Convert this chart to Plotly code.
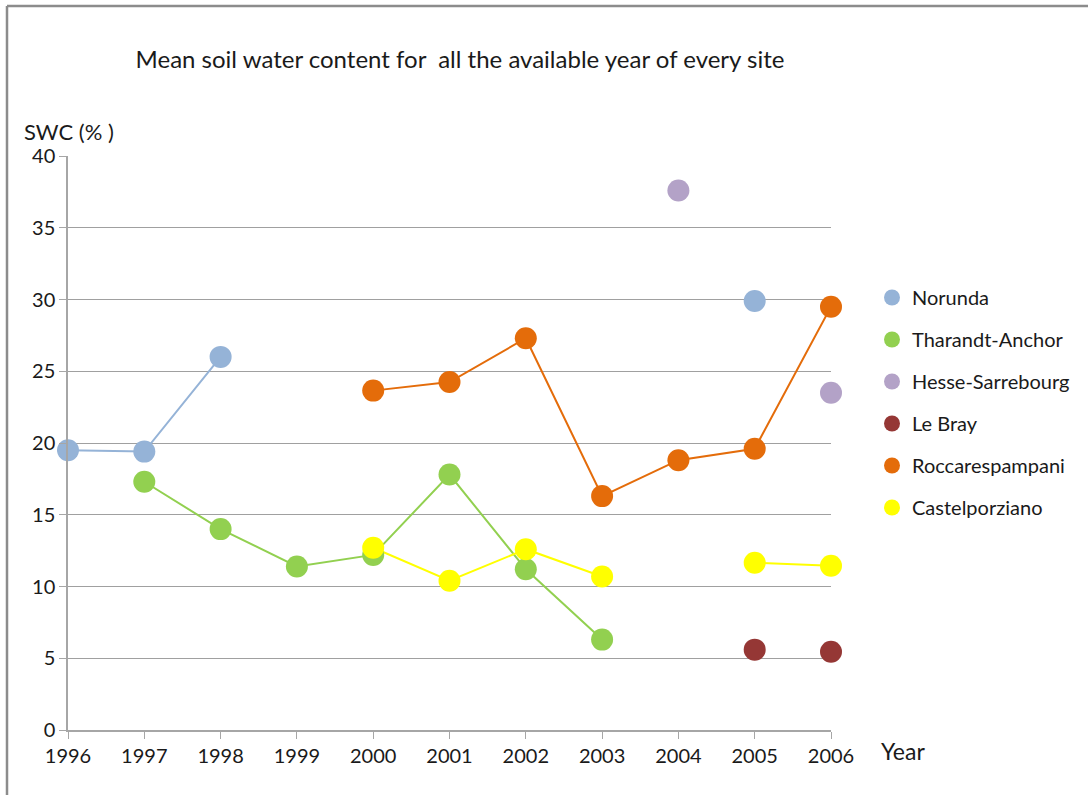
import plotly.graph_objects as go

years = [1996, 1997, 1998, 1999, 2000, 2001, 2002, 2003, 2004, 2005, 2006]
series_names = ["Norunda", "Tharandt-Anchor", "Hesse-Sarrebourg", "Le Bray",
                "Roccarespampani", "Castelporziano"]
norunda = [19.5, 19.4, 26.0, None, None, None, None, None, None, 29.9, None]
tharandt = [None, 17.3, 14.0, 11.4, 12.2, 17.8, 11.2, 6.3, None, None, None]
hesse = [None, None, None, None, None, None, None, None, 37.6, None, 23.5]
le_bray = [None, None, None, None, None, None, None, None, None, 5.6, 5.45]
rocca = [None, None, None, None, 23.65, 24.25, 27.3, 16.3, 18.8, 19.6, 29.5]
castel = [None, None, None, None, 12.7, 10.4, 12.6, 10.7, None, 11.65, 11.45]
colors = ["#95B3D7", "#92D050", "#B3A2C7", "#953735", "#E46C0A", "#FFFF00"]
has_line = [True, True, False, False, True, True]
y_ticks = [0, 5, 10, 15, 20, 25, 30, 35, 40]

FONT = "Lato"
TXT = "#1a1a1a"

fig = go.Figure()
all_series = [norunda, tharandt, hesse, le_bray, rocca, castel]
for name, vals, col, ln in zip(series_names, all_series, colors, has_line):
    if ln:
        fig.add_trace(go.Scatter(x=years, y=vals, mode="lines", line=dict(color=col, width=2),
                                 showlegend=False, hoverinfo="skip", cliponaxis=False,
                                 connectgaps=False))
for name, vals, col in zip(series_names, all_series, colors):
    fig.add_trace(go.Scatter(x=years, y=vals, mode="markers", name=name, legendgroup=name,
                             marker=dict(color=col, size=22, line=dict(width=0)),
                             cliponaxis=False))

L, R, T, B = 68, 257, 156, 65
W, H = 1088, 795
pw = W - L - R
ph = H - T - B

def px_x(px):
    return (px - L) / pw

def px_y(py):
    return (H - B - py) / ph

fig.update_layout(
    width=W, height=H,
    margin=dict(l=L, r=R, t=T, b=B, autoexpand=False),
    paper_bgcolor="white", plot_bgcolor="white",
    font=dict(family=FONT, size=20, color=TXT),
    title=dict(text="Mean soil water content for  all the available year of every site",
               x=460 / W, xanchor="center", y=1 - 60 / H, yanchor="middle",
               font=dict(family=FONT, size=24, color=TXT)),
    xaxis=dict(range=[1996, 2006], tickvals=years, ticktext=[str(y) for y in years],
               showgrid=False, zeroline=False, showline=True, linecolor="#A6A6A6",
               linewidth=1.5, ticks="outside", ticklen=7, tickcolor="#A6A6A6",
               tickfont=dict(family=FONT, size=20, color=TXT)),
    yaxis=dict(range=[0, 40], tickvals=y_ticks, showgrid=True, gridcolor="#A0A0A0",
               gridwidth=1, zeroline=False, showline=True, linecolor="#A6A6A6",
               linewidth=1.5, ticks="outside", ticklen=7, tickcolor="#A6A6A6",
               tickfont=dict(family=FONT, size=20, color=TXT)),
    legend=dict(x=px_x(872), y=px_y(278), xanchor="left", yanchor="top",
                font=dict(family=FONT, size=20, color=TXT), tracegroupgap=13,
                itemsizing="trace", itemwidth=30, bgcolor="rgba(0,0,0,0)"),
    annotations=[
        dict(text="SWC (% )", xref="paper", yref="paper", x=px_x(22), y=px_y(132),
             xanchor="left", yanchor="middle", showarrow=False,
             font=dict(family=FONT, size=22, color=TXT)),
        dict(text="Year", xref="paper", yref="paper", x=px_x(879), y=px_y(751),
             xanchor="left", yanchor="middle", showarrow=False,
             font=dict(family=FONT, size=23, color=TXT)),
    ],
    shapes=[
        dict(type="line", xref="paper", yref="paper", x0=px_x(7), x1=px_x(1100),
             y0=px_y(6), y1=px_y(6), line=dict(color="#8C8C8C", width=2.5)),
        dict(type="line", xref="paper", yref="paper", x0=px_x(7), x1=px_x(7),
             y0=px_y(6), y1=px_y(810), line=dict(color="#8C8C8C", width=2.5)),
    ],
)

fig.write_html("out.html")
